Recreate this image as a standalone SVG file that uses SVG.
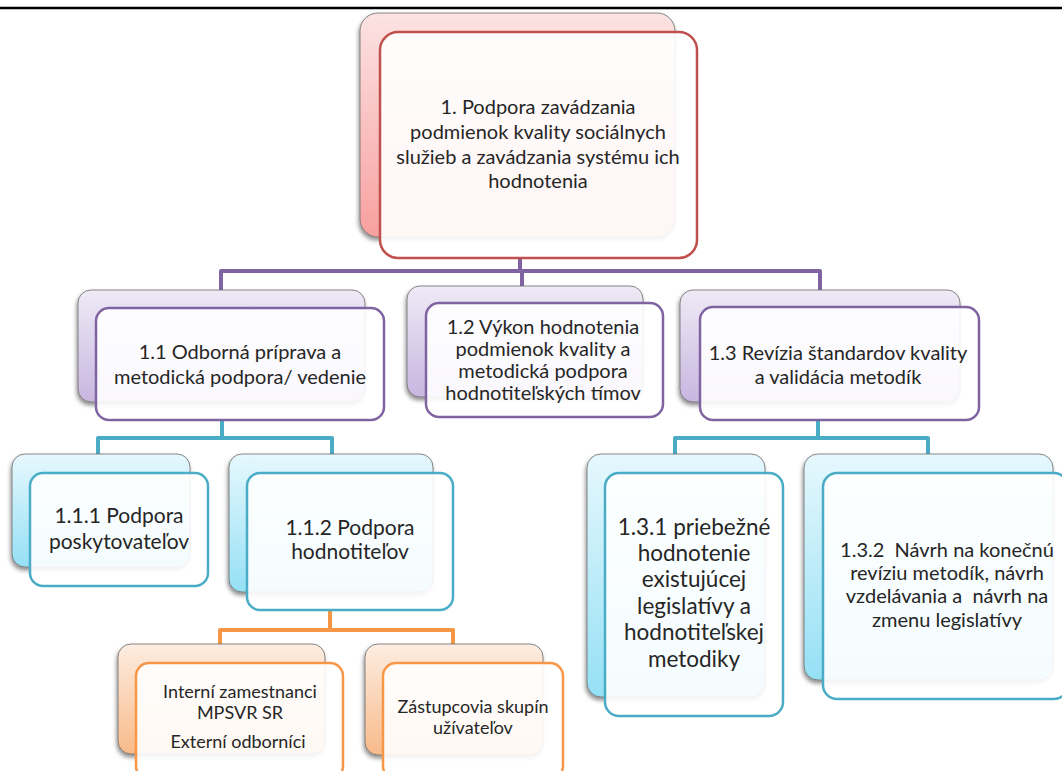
<svg xmlns="http://www.w3.org/2000/svg" width="1062" height="771" viewBox="0 0 1062 771">
<defs>
<linearGradient id="gRed" x1="0" y1="0" x2="0" y2="1"><stop offset="0" stop-color="#FCE3E3"/><stop offset="1" stop-color="#F7A09F"/></linearGradient>
<linearGradient id="gPur" x1="0" y1="0" x2="0" y2="1"><stop offset="0" stop-color="#EFEAF6"/><stop offset="1" stop-color="#C8B6E0"/></linearGradient>
<linearGradient id="gTeal" x1="0" y1="0" x2="0" y2="1"><stop offset="0" stop-color="#E6F8FD"/><stop offset="1" stop-color="#95E0F5"/></linearGradient>
<linearGradient id="gOr" x1="0" y1="0" x2="0" y2="1"><stop offset="0" stop-color="#FDEDE1"/><stop offset="1" stop-color="#F8BA8A"/></linearGradient>
<filter id="sh" x="-10%" y="-10%" width="120%" height="125%"><feDropShadow dx="-1" dy="3" stdDeviation="2" flood-color="#000" flood-opacity="0.45"/></filter>
</defs>
<style>
.back{stroke:#6a6a6a;stroke-width:0.8;filter:url(#sh)}
.front{fill:#ffffff;fill-opacity:0.9;stroke-width:2.5}
.red{stroke:#C0504D}.pur{stroke:#8064A2}.teal{stroke:#4BACC6}.or{stroke:#F79646}
.c{fill:none;stroke-width:4;stroke-linejoin:round}
text{font-family:Lato,"Noto Sans","Liberation Sans",sans-serif;fill:#262626;text-anchor:middle;white-space:pre}
.t20{font-size:20px}.t21{font-size:21px}.t22{font-size:22.5px}.t18{font-size:18px}
</style>
<rect width="1062" height="771" fill="#ffffff"/>
<line x1="0" y1="8" x2="1062" y2="8" stroke="#000" stroke-width="2.5"/>
<g id="connectors">
<path class="c pur" d="M520 258 V271 M221 290 V271 H820 V290 M522 271 V288"/>
<path class="c teal" d="M222 420 V438 M98 454 V438 H332 V454 M818 420 V438 M675 454 V438 H928 V454"/>
<path class="c or" d="M330 610 V630 M220 644 V630 H453 V644"/>
</g>
<g id="n1">
<rect class="back" x="360" y="13" width="315" height="224" rx="18" fill="url(#gRed)"/>
<rect class="front red" x="380" y="32" width="317" height="226" rx="18"/>
<text class="t20"><tspan x="538" y="114">1. Podpora zavádzania</tspan><tspan x="538" y="139">podmienok kvality sociálnych</tspan><tspan x="538" y="164">služieb a zavádzania systému ich</tspan><tspan x="538" y="188">hodnotenia</tspan></text>
</g>
<g id="n11">
<rect class="back" x="78" y="290" width="287" height="112" rx="13" fill="url(#gPur)"/>
<rect class="front pur" x="96" y="308" width="288" height="112" rx="13"/>
<text class="t20"><tspan x="240" y="359">1.1 Odborná príprava a</tspan><tspan x="240" y="384">metodická podpora/ vedenie</tspan></text>
</g>
<g id="n12">
<rect class="back" x="407" y="286" width="236" height="111" rx="13" fill="url(#gPur)"/>
<rect class="front pur" x="426" y="303" width="237" height="114" rx="13"/>
<text class="t20"><tspan x="543" y="334">1.2 Výkon hodnotenia</tspan><tspan x="543" y="356">podmienok kvality a</tspan><tspan x="543" y="378">metodická podpora</tspan><tspan x="543" y="400">hodnotiteľských tímov</tspan></text>
</g>
<g id="n13">
<rect class="back" x="680" y="290" width="280" height="112" rx="13" fill="url(#gPur)"/>
<rect class="front pur" x="700" y="307" width="279" height="113" rx="13"/>
<text class="t20"><tspan x="838" y="360">1.3 Revízia štandardov kvality</tspan><tspan x="838" y="384">a validácia metodík</tspan></text>
</g>
<g id="n111">
<rect class="back" x="12" y="454" width="178" height="113" rx="13" fill="url(#gTeal)"/>
<rect class="front teal" x="30" y="473" width="178" height="113" rx="13"/>
<text class="t21"><tspan x="119" y="523">1.1.1 Podpora</tspan><tspan x="119" y="549">poskytovateľov</tspan></text>
</g>
<g id="n112">
<rect class="back" x="229" y="454" width="204" height="138" rx="13" fill="url(#gTeal)"/>
<rect class="front teal" x="247" y="473" width="206" height="137" rx="13"/>
<text class="t21"><tspan x="350" y="535">1.1.2 Podpora</tspan><tspan x="350" y="559">hodnotiteľov</tspan></text>
</g>
<g id="n131">
<rect class="back" x="587" y="454" width="178" height="243" rx="14" fill="url(#gTeal)"/>
<rect class="front teal" x="605" y="473" width="178" height="243" rx="14"/>
<text class="t22"><tspan x="694" y="535">1.3.1 priebežné</tspan><tspan x="694" y="561">hodnotenie</tspan><tspan x="694" y="587">existujúcej</tspan><tspan x="694" y="614">legislatívy a</tspan><tspan x="694" y="640">hodnotiteľskej</tspan><tspan x="694" y="667">metodiky</tspan></text>
</g>
<g id="n132">
<rect class="back" x="804" y="454" width="249" height="226" rx="14" fill="url(#gTeal)"/>
<rect class="front teal" x="823" y="473" width="245" height="226" rx="14"/>
<text class="t20" xml:space="preserve"><tspan x="947" y="557">1.3.2  Návrh na konečnú</tspan><tspan x="947" y="580">revíziu metodík, návrh</tspan><tspan x="947" y="603">vzdelávania a  návrh na</tspan><tspan x="947" y="627">zmenu legislatívy</tspan></text>
</g>
<g id="n1121">
<rect class="back" x="118" y="644" width="207" height="110" rx="13" fill="url(#gOr)"/>
<rect class="front or" x="136" y="663" width="207" height="116" rx="13"/>
<text class="t18"><tspan x="240" y="698">Interní zamestnanci</tspan><tspan x="240" y="719">MPSVR SR</tspan><tspan x="238" y="748">Externí odborníci</tspan></text>
</g>
<g id="n1122">
<rect class="back" x="365" y="644" width="178" height="111" rx="13" fill="url(#gOr)"/>
<rect class="front or" x="383" y="663" width="180" height="116" rx="13"/>
<text class="t18"><tspan x="473" y="713">Zástupcovia skupín</tspan><tspan x="473" y="734">užívateľov</tspan></text>
</g>
</svg>
